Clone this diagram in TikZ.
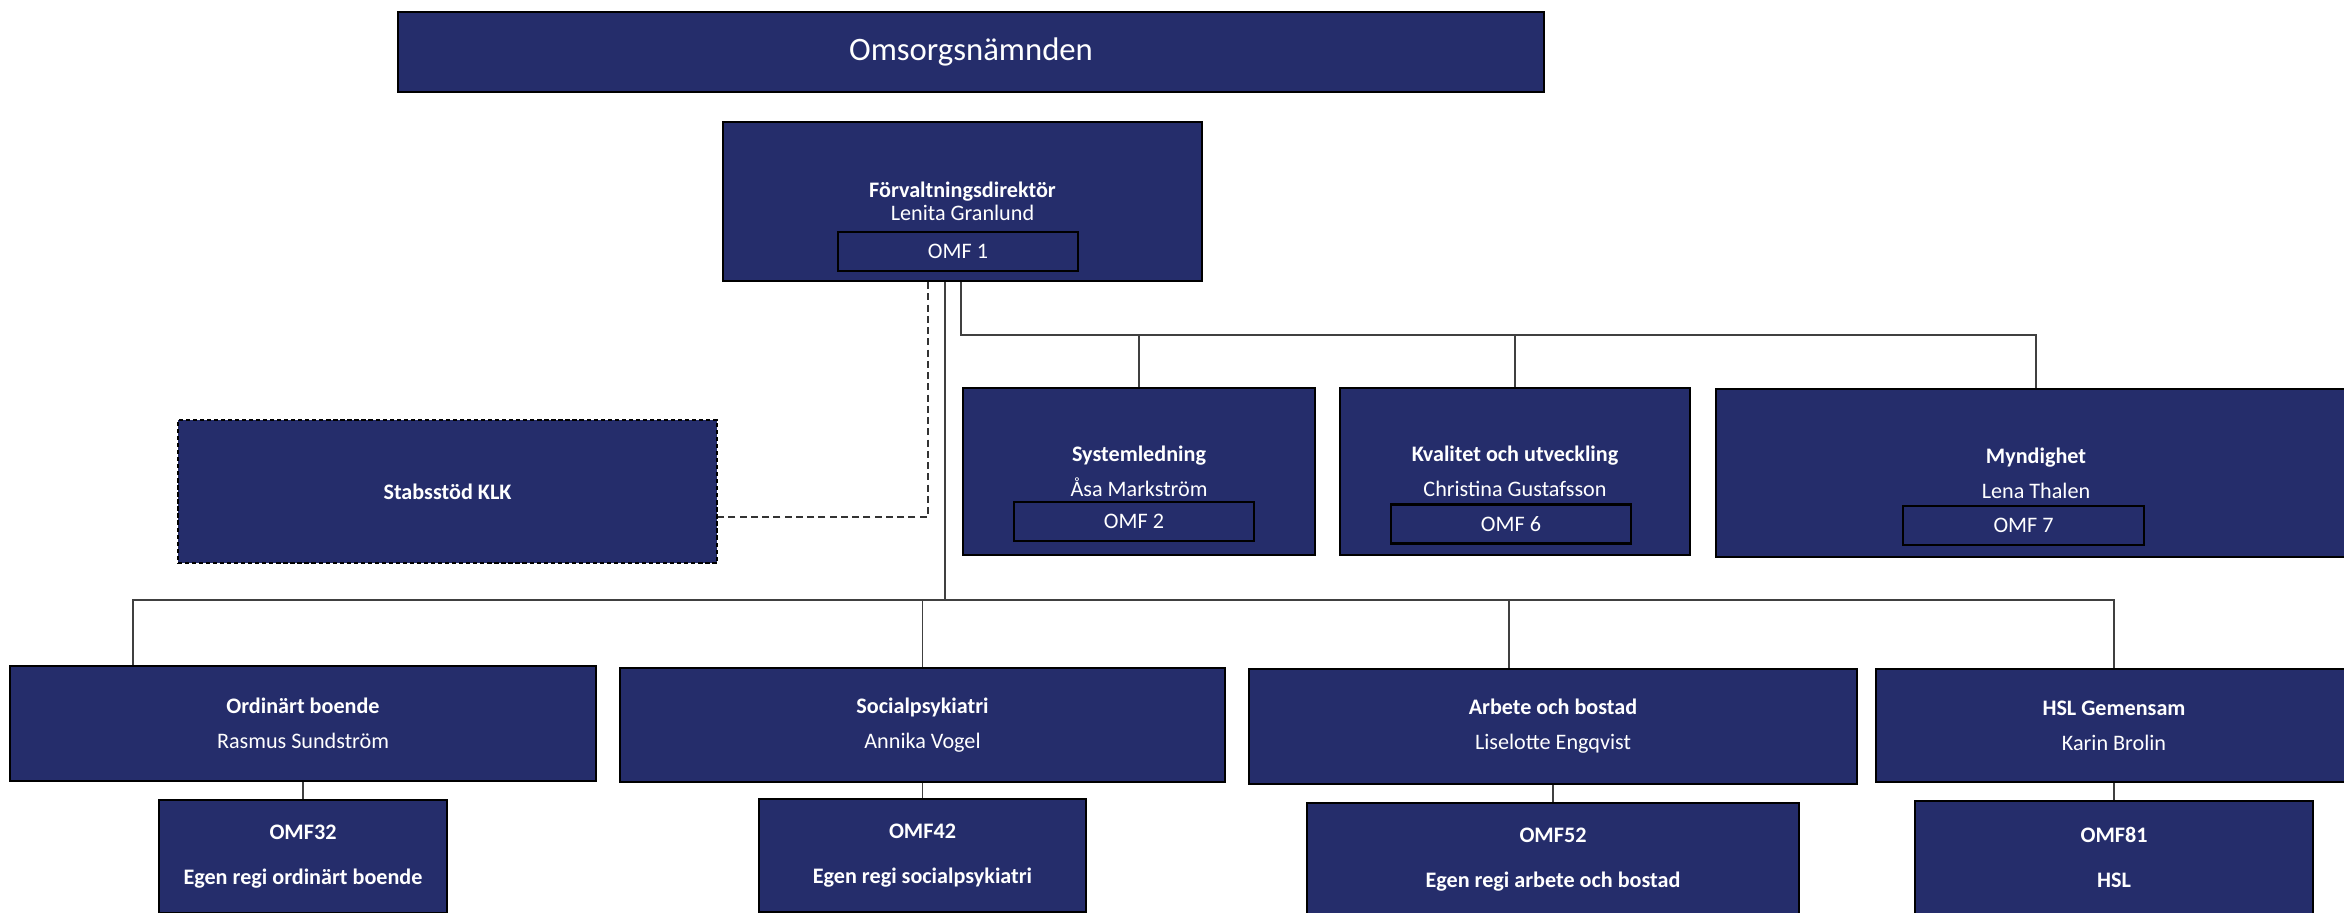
\documentclass[tikz,border=0pt]{standalone}
\usepackage{fontspec}
\setmainfont{Carlito}
\usetikzlibrary{positioning}
\definecolor{navy}{RGB}{37,45,107}
\tikzset{
	every node/.style={align=center, text=white},
	unit/.style={rectangle, draw=black, line width=0.6pt, fill=navy, inner sep=0pt, font=\fontsize{6.3}{10}\selectfont},
	code/.style={unit, minimum width=2.4cm, minimum height=0.39cm},
	grp/.style={unit, font=\fontsize{6.3}{12.8}\selectfont\bfseries, minimum height=1.13cm},
	staff/.style={dash pattern=on 1.2pt off 0.8pt},
	link/.style={draw=black!75, line width=0.5pt},
	staffline/.style={draw=black!80, line width=0.5pt, dash pattern=on 2pt off 1.2pt}
}

\begin{document}
\begin{tikzpicture}[x=0.01cm, y=-0.01cm]
	\clip (0,0) rectangle (2344,913);

	% Nämnd och direktör
	\node[unit, minimum width=11.46cm, minimum height=0.80cm, font=\fontsize{9.3}{11}\selectfont] (nmd) at (971,52) {Omsorgsnämnden};
	\node[unit, minimum width=4.79cm, minimum height=1.59cm, font=\fontsize{6.3}{6.5}\selectfont] (dir) at (962.5,201.5) {\textbf{Förvaltningsdirektör}\\Lenita Granlund};
	\node[code] (omf1) at (958,251.5) {OMF 1};

	% Stab
	\node[unit, staff, minimum width=5.39cm, minimum height=1.43cm] (stab) at (447.5,491.5) {\textbf{Stabsstöd KLK}};

	% Övre enheter
	\node[unit, minimum width=3.52cm, minimum height=1.67cm] (sys) at (1139,471.5) {\textbf{Systemledning}\\Åsa Markström};
	\node[code] (omf2) at (1134,521.5) {OMF 2};
	\node[unit, minimum width=3.50cm, minimum height=1.67cm] (kva) at (1515,471.5) {\textbf{Kvalitet och utveckling}\\Christina Gustafsson};
	\node[code] (omf6) at (1511,524) {OMF 6};
	\node[unit, minimum width=6.40cm, minimum height=1.68cm] (myn) at (2036,473) {\textbf{Myndighet}\\Lena Thalen};
	\node[code] (omf7) at (2023.5,525.5) {OMF 7};

	% Verksamheter
	\node[unit, minimum width=5.86cm, minimum height=1.15cm] (ord) at (303,723.5) {\textbf{Ordinärt boende}\\Rasmus Sundström};
	\node[unit, minimum width=6.05cm, minimum height=1.14cm] (soc) at (922.5,725) {\textbf{Socialpsykiatri}\\Annika Vogel};
	\node[unit, minimum width=6.08cm, minimum height=1.15cm] (arb) at (1553,726.5) {\textbf{Arbete och bostad}\\Liselotte Engqvist};
	\node[unit, minimum width=4.76cm, minimum height=1.13cm] (hsl) at (2114,725.5) {\textbf{HSL Gemensam}\\Karin Brolin};

	\node (omf32) [grp, minimum width=2.88cm, below=0.17cm of ord] {OMF32\\Egen regi ordinärt boende};
	\node (omf42) [grp, minimum width=3.26cm, below=0.15cm of soc] {OMF42\\Egen regi socialpsykiatri};
	\node (omf52) [grp, minimum width=4.91cm, below=0.17cm of arb] {OMF52\\Egen regi arbete och bostad};
	\node (omf81) [grp, minimum width=3.97cm, below=0.17cm of hsl] {OMF81\\HSL};

	% Linjer
	\coordinate (j1) at (961,335);
	\coordinate (j2) at (945,600);
	\coordinate (j3) at (928,517);
	\coordinate (jo) at (133,600);
	\coordinate (ja) at (1509,600);

	\draw[link] (dir.south -| j1) -- (j1) -| (myn.north);
	\draw[link] (sys.north |- j1) -- (sys.north);
	\draw[link] (kva.north |- j1) -- (kva.north);

	\draw[link] (dir.south -| j2) -- (j2);
	\draw[link] (jo |- ord.north) -- (jo) -- (hsl.north |- jo) -- (hsl.north);
	\draw[link] (soc.north |- jo) -- (soc.north);
	\draw[link] (ja) -- (ja |- arb.north);

	\draw[staffline] (dir.south -| j3) -- (j3) -- (j3 -| stab.east);

	\draw[link] (ord.south) -- (omf32.north);
	\draw[link] (soc.south) -- (omf42.north);
	\draw[link] (arb.south) -- (omf52.north);
	\draw[link] (hsl.south) -- (omf81.north);
\end{tikzpicture}
\end{document}
